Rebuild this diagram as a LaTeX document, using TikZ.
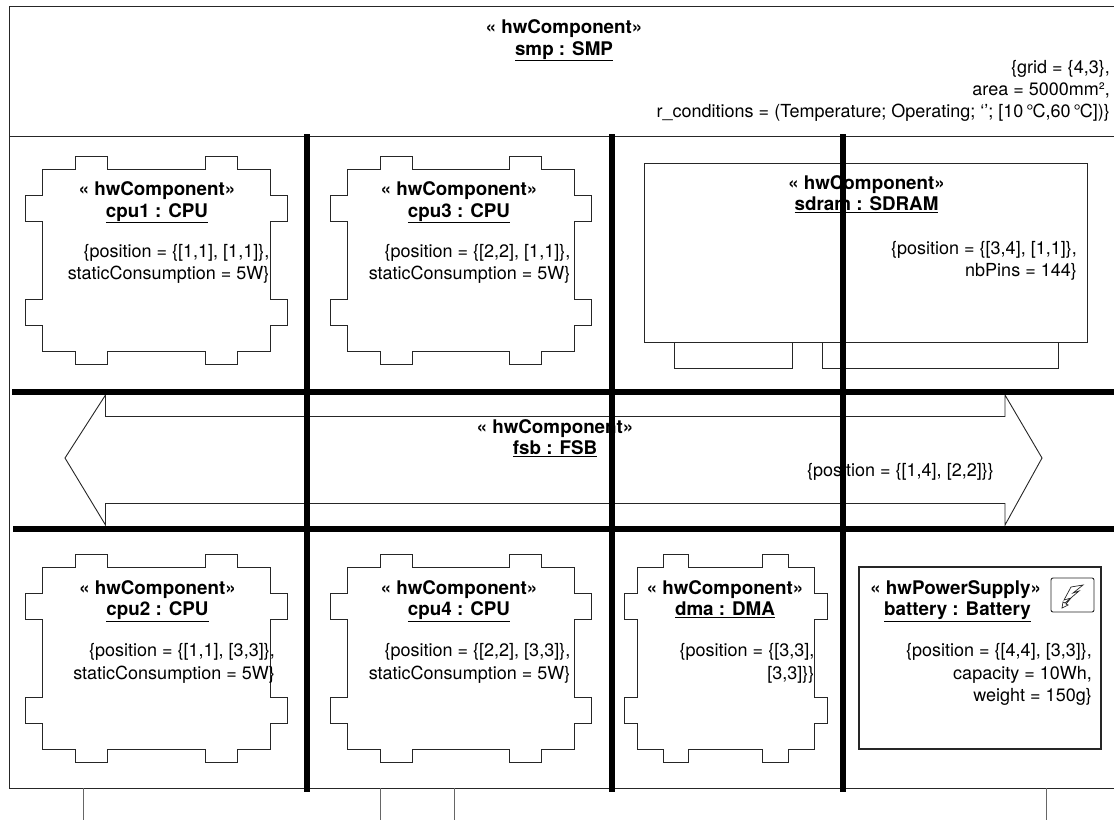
\documentclass[tikz,border=0pt]{standalone}
\usepackage{fontspec}
\setmainfont{TeX Gyre Heros}
\tikzset{
  hwline/.style={draw=black!85, line width=0.9pt},
  hwgrid/.style={draw=black, line width=6pt},
  hwtitle/.style={align=center, inner sep=0pt, anchor=north, font=\fontsize{18.8}{21.5}\selectfont\bfseries},
  hwnote/.style={align=right, inner sep=0pt, anchor=north east, font=\fontsize{18}{22.3}\selectfont},
  hwstem/.style={draw=black!60, line width=0.9pt}
}
\newcommand{\hwchip}[7]{% body x0,y0,x1,y1, tab inset, tab length, side tab depth
  \draw[hwline] (#1,#2)
    -- (#1+#5,#2) -- ++(0,-13) -- ++(#6,0) -- ++(0,13)
    -- (#3-#5-#6,#2) -- ++(0,-13) -- ++(#6,0) -- ++(0,13)
    -- (#3,#2)
    -- (#3,#2+26) -- ++(#7,0) -- ++(0,26) -- ++(-#7,0)
    -- (#3,#4-52) -- ++(#7,0) -- ++(0,26) -- ++(-#7,0)
    -- (#3,#4)
    -- (#3-#5,#4) -- ++(0,13) -- ++(-#6,0) -- ++(0,-13)
    -- (#1+#5+#6,#4) -- ++(0,13) -- ++(-#6,0) -- ++(0,-13)
    -- (#1,#4)
    -- (#1,#4-26) -- ++(-#7,0) -- ++(0,-26) -- ++(#7,0)
    -- (#1,#2+52) -- ++(-#7,0) -- ++(0,-26) -- ++(#7,0)
    -- cycle;
}
\begin{document}
\begin{tikzpicture}[x=1pt, y=-1pt]
  \useasboundingbox (0,0) rectangle (1114,820);
  % outer frame
  \draw[hwline] (1114,6) -- (9.5,6) -- (9.5,788) -- (1114,788);
  \draw[hwline] (9.5,136) -- (1114,136);
  \foreach \x in {83,380,454,1046} { \draw[hwstem] (\x,788) -- (\x,820); }
  \node[hwtitle] (smp) at (564,19.5) {« hwComponent»\\\underline{smp : SMP}};
  \node[hwnote] (smpnote) at (1110,60) {\{grid = \{4,3\},\\area = 5000mm²,\\r\_conditions = (Temperature; Operating; ‘’; [10\,°\kern-1ptC,60\,°\kern-1ptC])\}};
  % cpus
  \hwchip{42}{169}{270}{351}{33}{32}{17}
  \hwchip{347}{169}{574}{351}{33}{32}{17}
  \hwchip{42}{567}{270}{749}{33}{32}{17}
  \hwchip{347}{567}{574}{749}{33}{32}{17}
  \hwchip{637}{567}{814}{749}{26}{25.5}{13}
  \node[hwtitle] (cpu1) at (157,181.5) {« hwComponent»\\\underline{cpu1 : CPU}};
  \node[hwtitle] (cpu3) at (459,181.5) {« hwComponent»\\\underline{cpu3 : CPU}};
  \node[hwtitle] (cpu2) at (157.5,580) {« hwComponent»\\\underline{cpu2 : CPU}};
  \node[hwtitle] (cpu4) at (459,580) {« hwComponent»\\\underline{cpu4 : CPU}};
  \node[hwtitle] (dma) at (725,580) {« hwComponent»\\\underline{dma : DMA}};
  \node[hwnote] (cpu1note) at (269.5,244) {\{position = \{[1,1], [1,1]\},\\staticConsumption = 5W\}\hspace{4pt}};
  \node[hwnote] (cpu3note) at (570.5,244) {\{position = \{[2,2], [1,1]\},\\staticConsumption = 5W\}\hspace{4pt}};
  \node[hwnote] (cpu2note) at (275,643.5) {\{position = \{[1,1], [3,3]\},\\staticConsumption = 5W\}\hspace{14pt}};
  \node[hwnote] (cpu4note) at (570.5,643.5) {\{position = \{[2,2], [3,3]\},\\staticConsumption = 5W\}\hspace{4pt}};
  \node[hwnote] (dmanote) at (814.5,643.5) {\{position = \{[3,3],\\{}[3,3]\}\}};
  % sdram
  \draw[hwline] (674,342) -- (674,368) -- (792,368) -- (792,342);
  \draw[hwline] (822,342) -- (822,368) -- (1058,368) -- (1058,342);
  \draw[hwline] (644,163) rectangle (1087,342);
  \node[hwtitle] (sdram) at (866.5,175) {« hwComponent»\\\underline{sdram : SDRAM}};
  \node[hwnote] (sdramnote) at (1077,241) {\{position = \{[3,4], [1,1]\},\\nbPins = 144\}};
  % fsb
  \draw[hwline] (105.5,416.5) -- (105.5,395) -- (65,458) -- (105.5,525) -- (105.5,503.5)
    -- (1005,503.5) -- (1005,525) -- (1042,458) -- (1005,395) -- (1005,416.5) -- cycle;
  \node[hwtitle] (fsb) at (555,419) {« hwComponent»\\\underline{fsb : FSB}};
  \node[hwnote] (fsbnote) at (994,463) {\{position = \{[1,4], [2,2]\}\}};
  % battery
  \draw[hwline, line width=1.3pt] (859,567) rectangle (1101,749);
  \draw[hwline, rounded corners=2pt] (1051,578) rectangle (1094,612);
  \draw[hwline, line width=0.7pt] (1083,585) -- (1071,587) -- (1064,600) -- (1071,598) -- (1066,604) -- (1068,605) -- (1062,608)
    -- (1063,602) -- (1065,603) -- (1079,591) -- (1073,593) -- cycle;
  \node[hwtitle, anchor=north west, align=left] (battery) at (870,580) {« hwPowerSupply»\\\hspace{14pt}\underline{battery : Battery}};
  \node[hwnote] (batterynote) at (1092,643.5) {\{position = \{[4,4], [3,3]\},\\capacity = 10Wh,\hspace{1pt}\\weight = 150g\}\hspace{1pt}};
  % allocation grid
  \draw[hwgrid] (307,134) -- (307,792);
  \draw[hwgrid] (612,134) -- (612,792);
  \draw[hwgrid] (843,134) -- (843,792);
  \draw[hwgrid] (12,392) -- (1114,392);
  \draw[hwgrid] (13,529) -- (1114,529);
\end{tikzpicture}
\end{document}
